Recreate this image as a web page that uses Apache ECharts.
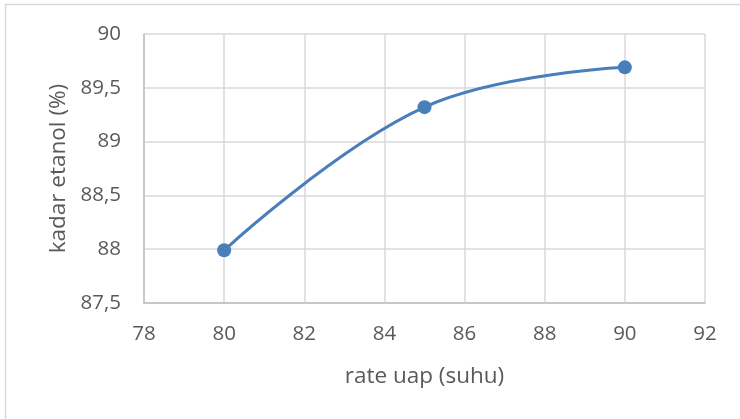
<!DOCTYPE html>
<html><head><meta charset="utf-8">
<script src="https://cdn.jsdelivr.net/npm/echarts@6/dist/echarts.min.js"></script>
<style>html,body{margin:0;padding:0;background:#fff}#c{width:740px;height:419px}</style>
</head><body><div id="c"></div>
<script>
const suhu = [80, 85, 90];
const kadar = [87.99, 89.32, 89.69];
const xTicks = {min: 78, max: 92, interval: 2};
const yTicks = {min: 87.5, max: 90, interval: 0.5};
const xTitle = 'rate uap (suhu)';
const yTitle = 'kadar etanol (%)';

const font = '"Open Sans", Lato, sans-serif';
const txt = '#595959';
const chart = echarts.init(document.getElementById('c'), null, {renderer: 'canvas'});
chart.setOption({
  animation: false,
  backgroundColor: '#fff',
  graphic: [{type: 'rect', shape: {x: 5.5, y: 4.5, width: 900, height: 600}, style: {fill: 'none', stroke: '#d9d9d9', lineWidth: 1.5}, z: -1}],
  grid: {left: 144, right: 35, top: 34, bottom: 116},
  xAxis: {
    type: 'value', min: xTicks.min, max: xTicks.max, interval: xTicks.interval,
    name: xTitle, nameLocation: 'middle', nameGap: 62,
    nameTextStyle: {color: txt, fontSize: 22.5, fontFamily: font},
    axisLine: {lineStyle: {color: '#bfbfbf', width: 1.5}},
    axisTick: {show: false},
    axisLabel: {color: txt, fontSize: 20.5, fontFamily: font, margin: 21},
    splitLine: {lineStyle: {color: '#d9d9d9', width: 1.5}}
  },
  yAxis: {
    type: 'value', min: yTicks.min, max: yTicks.max, interval: yTicks.interval,
    name: yTitle, nameLocation: 'middle', nameGap: 74,
    nameTextStyle: {color: txt, fontSize: 22.5, fontFamily: font},
    axisLine: {show: true, lineStyle: {color: '#bfbfbf', width: 1.5}},
    axisTick: {show: false},
    axisLabel: {color: txt, fontSize: 20.5, fontFamily: font, margin: 23,
      formatter: v => String(v).replace('.', ',')},
    splitLine: {lineStyle: {color: '#d9d9d9', width: 1.5}}
  },
  series: [{
    type: 'line', smooth: 0.4,
    data: suhu.map((x, i) => [x, kadar[i]]),
    symbol: 'circle', symbolSize: 14,
    lineStyle: {color: '#4a7ebb', width: 3},
    itemStyle: {color: '#4a7ebb'}
  }]
});
</script></body></html>
